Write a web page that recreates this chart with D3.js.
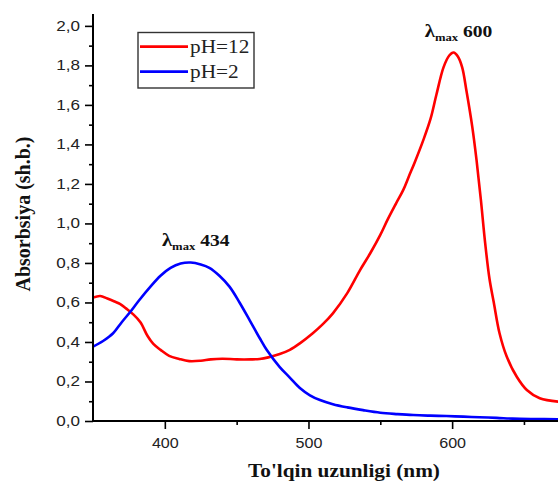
<!DOCTYPE html>
<html>
<head>
<meta charset="utf-8">
<script src="https://cdn.jsdelivr.net/npm/d3@7"></script>
<style>
  html, body { margin: 0; padding: 0; background: #fff; }
  svg { display: block; }
</style>
</head>
<body>
<svg id="chart" width="558" height="487"></svg>
<script>
// Absorption spectra (wavelength in nm, absorbance in arbitrary units)
const wavelengthsPH12 = [350, 355, 360, 365, 369, 373, 378, 383, 388, 392, 397, 403, 410, 417, 425, 432, 440, 450, 460, 466, 472, 480, 487, 494, 503, 510, 517, 527, 536, 543, 550, 555, 561, 566, 570, 574, 580, 585, 589, 594, 598, 601, 604, 607, 610, 614, 617, 620, 623, 626, 629, 633, 638, 645, 652, 661, 674];
const absorbancePH12 = [0.625, 0.633, 0.62, 0.605, 0.592, 0.57, 0.54, 0.50, 0.43, 0.39, 0.36, 0.33, 0.314, 0.303, 0.305, 0.312, 0.315, 0.312, 0.312, 0.314, 0.322, 0.339, 0.36, 0.393, 0.444, 0.49, 0.545, 0.647, 0.765, 0.849, 0.942, 1.018, 1.102, 1.17, 1.24, 1.31, 1.423, 1.53, 1.65, 1.79, 1.85, 1.865, 1.845, 1.79, 1.67, 1.49, 1.32, 1.12, 0.9, 0.72, 0.6, 0.444, 0.326, 0.224, 0.157, 0.115, 0.098];

const wavelengthsPH2 = [350, 357, 364, 370, 376, 382, 390, 397, 404, 411, 418, 425, 431, 438, 445, 452, 459, 466, 471, 480, 487, 494, 501, 508, 517, 527, 538, 550, 562, 573, 585, 596, 608, 619, 631, 642, 657, 674];
const absorbancePH2 = [0.376, 0.405, 0.444, 0.50, 0.553, 0.61, 0.68, 0.735, 0.775, 0.797, 0.802, 0.792, 0.775, 0.735, 0.68, 0.60, 0.511, 0.42, 0.359, 0.273, 0.22, 0.167, 0.13, 0.106, 0.085, 0.069, 0.055, 0.042, 0.035, 0.030, 0.027, 0.025, 0.022, 0.019, 0.016, 0.012, 0.010, 0.009];

const series = [
  { label: "pH=12", color: "#ff0000", x: wavelengthsPH12, y: absorbancePH12 },
  { label: "pH=2",  color: "#0000ff", x: wavelengthsPH2,  y: absorbancePH2 }
];

const xTicks = [400, 500, 600];
const xMinorTicks = [450, 550, 650];
const yTicks = [0, 0.2, 0.4, 0.6, 0.8, 1.0, 1.2, 1.4, 1.6, 1.8, 2.0];
const yMinorTicks = [0.1, 0.3, 0.5, 0.7, 0.9, 1.1, 1.3, 1.5, 1.7, 1.9];

const peaks = [
  { wavelength: 434, x: 398, y: 0.885 },
  { wavelength: 600, x: 581, y: 1.945 }
];

const xLabel = "To'lqin uzunligi (nm)";
const yLabel = "Absorbsiya (sh.b.)";

// ---- layout ----
const svg = d3.select("#chart");
const W = 558, H = 487;
const plot = { left: 93, right: 558, top: 16, bottom: 421 };
const stretch = 1.15; // glyphs are drawn slightly wide

const x = d3.scaleLinear().domain([350, 673.7]).range([plot.left, plot.right]);
const y = d3.scaleLinear().domain([0, 2.05]).range([plot.bottom, plot.top]);

function widen(sel, k) {
  sel.each(function () {
    const len = this.getComputedTextLength();
    d3.select(this).attr("textLength", len * k).attr("lengthAdjust", "spacingAndGlyphs");
  });
}

svg.append("defs").append("clipPath").attr("id", "plotClip")
  .append("rect")
  .attr("x", plot.left).attr("y", plot.top - 10)
  .attr("width", plot.right - plot.left).attr("height", plot.bottom - plot.top + 10);

// ---- curves ----
const line = d3.line()
  .x(d => x(d[0]))
  .y(d => y(d[1]))
  .curve(d3.curveCatmullRom.alpha(0.5));

const curves = svg.append("g").attr("clip-path", "url(#plotClip)");
series.forEach(s => {
  curves.append("path")
    .datum(s.x.map((v, i) => [v, s.y[i]]))
    .attr("fill", "none")
    .attr("stroke", s.color)
    .attr("stroke-width", 2.6)
    .attr("stroke-linejoin", "round")
    .attr("d", line);
});

// ---- axes ----
const fmt = v => d3.format(".1f")(v).replace(".", ",");

const yMinor = svg.append("g").attr("transform", `translate(${plot.left},0)`)
  .call(d3.axisLeft(y).tickValues(yMinorTicks).tickSize(4).tickFormat(""));
const yAxis = svg.append("g").attr("transform", `translate(${plot.left},0)`)
  .call(d3.axisLeft(y).tickValues(yTicks).tickSize(8).tickSizeOuter(0).tickPadding(5).tickFormat(fmt));

const xMinor = svg.append("g").attr("transform", `translate(0,${plot.bottom})`)
  .call(d3.axisBottom(x).tickValues(xMinorTicks).tickSize(4).tickFormat(""));
const xAxis = svg.append("g").attr("transform", `translate(0,${plot.bottom})`)
  .call(d3.axisBottom(x).tickValues(xTicks).tickSize(8).tickSizeOuter(0).tickPadding(9).tickFormat(d3.format("d")));

[yMinor, xMinor].forEach(g => g.select(".domain").remove());
[yAxis, xAxis, yMinor, xMinor].forEach(g => {
  g.selectAll(".domain").attr("stroke", "#000").attr("stroke-width", 2);
  g.selectAll(".tick line").attr("stroke", "#000").attr("stroke-width", 1.6);
  g.selectAll(".tick text")
    .attr("font-family", "'Liberation Sans', Arial, sans-serif")
    .attr("font-size", 14)
    .attr("fill", "#222");
});
// axis lines: y runs slightly above the top tick, x runs to the right edge
yAxis.select(".domain").attr("d", `M0,${plot.top - 2}V${plot.bottom + 1}`);
xAxis.select(".domain").attr("d", `M${plot.left - 1},0H${W}`);
widen(yAxis.selectAll(".tick text"), 1.22);
widen(xAxis.selectAll(".tick text"), 1.15);

// ---- axis titles ----
const xt = svg.append("text")
  .attr("x", 344).attr("y", 477)
  .attr("text-anchor", "middle")
  .attr("font-family", "'Liberation Serif', 'Times New Roman', serif")
  .attr("font-weight", "bold")
  .attr("font-size", 18.5)
  .attr("fill", "#111")
  .text(xLabel);
widen(xt, stretch);

svg.append("text")
  .attr("transform", "translate(30,214) rotate(-90)")
  .attr("text-anchor", "middle")
  .attr("font-family", "'Liberation Serif', 'Times New Roman', serif")
  .attr("font-weight", "bold")
  .attr("font-size", 20)
  .attr("fill", "#111")
  .text(yLabel);

// ---- peak annotations ----
peaks.forEach(p => {
  const t = svg.append("text")
    .attr("x", x(p.x)).attr("y", y(p.y))
    .attr("font-family", "'Liberation Serif', 'Times New Roman', serif")
    .attr("font-weight", "bold")
    .attr("fill", "#111");
  t.append("tspan").attr("font-size", 18).text("λ");
  t.append("tspan").attr("font-size", 11).attr("dy", 4).text("max");
  t.append("tspan").attr("font-size", 17).attr("dy", -4).text(" " + p.wavelength);
  widen(t, stretch);
});

// ---- legend ----
const legend = svg.append("g");
legend.append("rect")
  .attr("x", 138).attr("y", 32.5)
  .attr("width", 116).attr("height", 55.5)
  .attr("fill", "#fff")
  .attr("stroke", "#333")
  .attr("stroke-width", 1.4);
series.forEach((s, i) => {
  const cy = 46.7 + i * 25;
  legend.append("line")
    .attr("x1", 140).attr("x2", 188)
    .attr("y1", cy).attr("y2", cy)
    .attr("stroke", s.color).attr("stroke-width", 2.8);
  const lt = legend.append("text")
    .attr("x", 190).attr("y", cy + 6.5)
    .attr("font-family", "'Liberation Serif', 'Times New Roman', serif")
    .attr("font-size", 19)
    .attr("fill", "#222")
    .text(s.label);
  widen(lt, 1.12);
});
</script>
</body>
</html>
